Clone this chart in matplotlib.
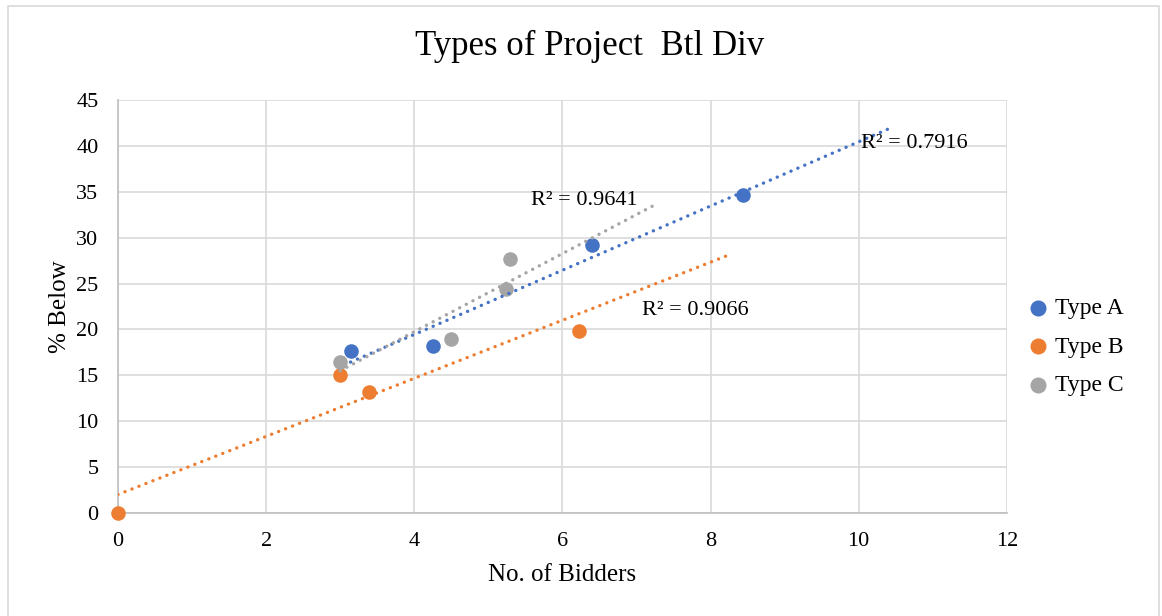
import numpy as np
import matplotlib.pyplot as plt
from matplotlib.patches import Rectangle

# data
type_a_x = [3.14, 4.25, 6.40, 8.44]
type_a_y = [17.6, 18.2, 29.2, 34.6]
type_b_x = [0.0, 3.0, 3.39, 6.23]
type_b_y = [0.0, 15.0, 13.2, 19.8]
type_c_x = [3.0, 4.49, 5.24, 5.29]
type_c_y = [16.5, 19.0, 24.4, 27.7]

series_names = ['Type A', 'Type B', 'Type C']
r2_labels = ['R² = 0.7916', 'R² = 0.9066', 'R² = 0.9641']
r2_pos = [(10.03, 40.3), (7.07, 22.1), (5.57, 34.0)]
forecast = 2.0

colors = ['#4472C4', '#ED7D31', '#A5A5A5']

plt.rcParams['font.family'] = ['Liberation Serif', 'DejaVu Serif']

fig = plt.figure(figsize=(11.62, 6.16), dpi=100)
ax = fig.add_axes([0.1015, 0.1672, 0.765, 0.6705])

# chart frame
fig.patches.append(Rectangle((0.007, -0.01), 0.99, 1.0, transform=fig.transFigure,
                             fill=False, edgecolor='#d9d9d9', lw=1.2))

xs = [type_a_x, type_b_x, type_c_x]
ys = [type_a_y, type_b_y, type_c_y]

for x, y, c, name in zip(xs, ys, colors, series_names):
    ax.scatter(x, y, s=110, color=c, label=name, zorder=3, linewidths=0, clip_on=False)

# linear trendlines, forecast forward
for x, y, c in zip(xs, ys, colors):
    k, b = np.polyfit(x, y, 1)
    tx = np.array([min(x), max(x) + forecast])
    ax.plot(tx, k * tx + b, color=c, lw=2.4, linestyle=(0, (0.05, 2.2)),
            dash_capstyle='round', zorder=4)

for txt, (px, py) in zip(r2_labels, r2_pos):
    ax.text(px, py, txt, fontsize=16, va='center', ha='left', zorder=5)

ax.set_xlim(0, 12)
ax.set_ylim(0, 45)
ax.set_xticks(np.arange(0, 13, 2))
ax.set_yticks(np.arange(0, 46, 5))
ax.grid(True, color='#d9d9d9', lw=1.2)
ax.set_axisbelow(True)
for s in ['top', 'right']:
    ax.spines[s].set_visible(False)
for s in ['left', 'bottom']:
    ax.spines[s].set_color('#bfbfbf')
    ax.spines[s].set_linewidth(1.2)
ax.tick_params(axis='both', length=0, labelsize=16)
ax.tick_params(axis='x', pad=14)
ax.tick_params(axis='y', pad=14)

ax.set_xlabel('No. of Bidders', fontsize=18, labelpad=9)
ax.set_ylabel('% Below', fontsize=18, labelpad=4)
fig.text(0.507, 0.925, 'Types of Project  Btl Div', fontsize=25, ha='center', va='center')

fig.legend(loc='center left', bbox_to_anchor=(0.855, 0.437), frameon=False,
           fontsize=17, handletextpad=-0.3, labelspacing=0.72, markerscale=1.1)

fig.savefig('out.png', dpi=100)
